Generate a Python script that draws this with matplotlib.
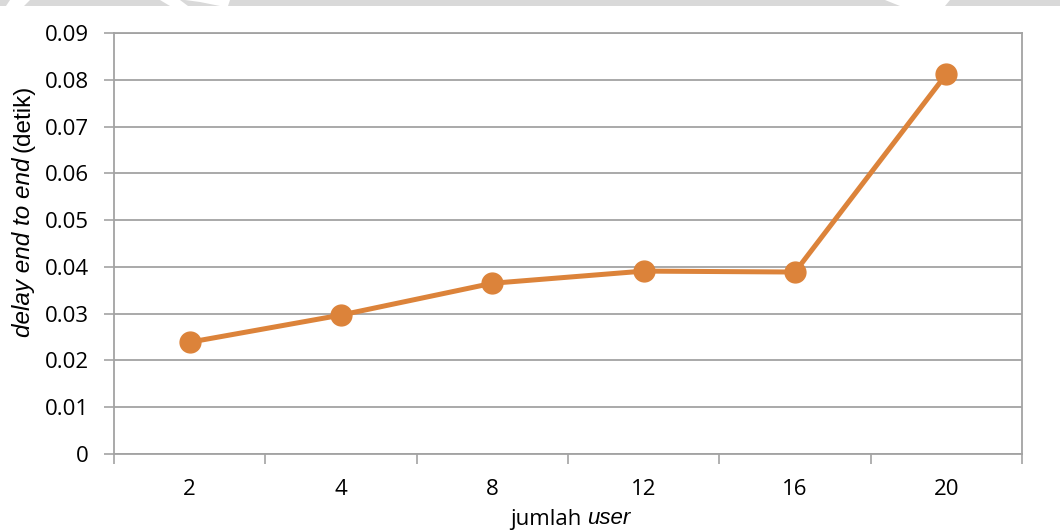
import matplotlib
matplotlib.use("Agg")
import matplotlib.pyplot as plt
from matplotlib.patches import Rectangle, Polygon

# Data
users = ["2", "4", "8", "12", "16", "20"]
delay = [0.0239, 0.0297, 0.0365, 0.0391, 0.0389, 0.0812]

y_ticks = [0, 0.01, 0.02, 0.03, 0.04, 0.05, 0.06, 0.07, 0.08, 0.09]
y_tick_labels = ["0", "0.01", "0.02", "0.03", "0.04", "0.05", "0.06", "0.07", "0.08", "0.09"]

W, H = 1060, 531
DPI = 100
LINE_COLOR = "#DC833A"
AXIS_COLOR = "#A3A3A3"
FS = 16

fig = plt.figure(figsize=(W / DPI, H / DPI), dpi=DPI)
fig.patch.set_facecolor("white")

# Plot area in pixel coordinates
left, right, top, bottom = 114, 1022, 33, 454
ax = fig.add_axes([left / W, 1 - bottom / H, (right - left) / W, (bottom - top) / H])

x = list(range(len(users)))
ax.plot(x, delay, color=LINE_COLOR, lw=3.6, marker="o", ms=15,
        markerfacecolor=LINE_COLOR, markeredgecolor=LINE_COLOR, zorder=3,
        solid_capstyle="round")

ax.set_xlim(-0.5, len(users) - 0.5)
ax.set_ylim(0, 0.09)
ax.set_yticks(y_ticks)
ax.set_yticklabels(y_tick_labels)
ax.set_xticks(x)
ax.set_xticklabels(users)

# Category boundary ticks on the x axis
ax.set_xticks([i - 0.5 for i in range(len(users) + 1)], minor=True)
ax.tick_params(axis="x", which="major", length=0, pad=18)
ax.tick_params(axis="x", which="minor", length=7, width=1.2, color=AXIS_COLOR)
ax.tick_params(axis="y", which="major", length=7, width=1.2, color=AXIS_COLOR, pad=11)

for lab in ax.get_xticklabels() + ax.get_yticklabels():
    lab.set_fontfamily("Open Sans")
    lab.set_fontsize(FS)
    lab.set_color("black")

ax.yaxis.grid(True, color=AXIS_COLOR, lw=1.3)
ax.set_axisbelow(True)
for side in ["left", "right", "bottom", "top"]:
    ax.spines[side].set_color(AXIS_COLOR)
    ax.spines[side].set_linewidth(1.3)

# Axis titles with italic English terms
fig.canvas.draw()
renderer = fig.canvas.get_renderer()

# y-axis title, reading bottom to top
yl_x = 24 / W
yl_size = 17.5
t1 = fig.text(yl_x, 0, "delay end to end", rotation=90,
              fontfamily="Liberation Sans", fontstyle="italic", fontsize=yl_size,
              ha="center", va="bottom")
t1b = fig.text(yl_x, 0, "(detik)", rotation=90,
               fontfamily="Liberation Sans", fontsize=yl_size, ha="center", va="bottom")
h1 = t1.get_window_extent(renderer).height
h1b = t1b.get_window_extent(renderer).height
gap = 6
total = h1 + gap + h1b
y_start = (H - 211) - total / 2
t1.set_y(y_start / H)
t1b.set_y((y_start + h1 + gap) / H)

# x-axis title
xl_y = 1 - 519 / H
t2 = fig.text(0, xl_y, "jumlah ", fontfamily="Open Sans", fontsize=FS,
              ha="left", va="center")
t3 = fig.text(0, xl_y, "user", fontfamily="Liberation Sans", fontstyle="italic",
              fontsize=FS, ha="left", va="center")
w2 = t2.get_window_extent(renderer).width
w3 = t3.get_window_extent(renderer).width
start = 570 - (w2 + w3) / 2
t2.set_x(start / W)
t3.set_x((start + w2) / W)

# Light grey band along the top edge
band_h = 6
fig.patches.append(Rectangle((0, 1 - band_h / H), 1, band_h / H,
                             transform=fig.transFigure, facecolor="#D9D9D9",
                             edgecolor="none", zorder=0))
for pts in [
    [(10, 0), (30, 0), (24, band_h), (6, band_h)],
    [(160, 0), (180, 0), (188, band_h), (170, band_h)],
    [(185, 0), (230, 0), (228, band_h), (220, band_h), (200, 2)],
    [(885, 0), (950, 0), (945, band_h), (900, band_h)],
]:
    fig.patches.append(Polygon([(px / W, 1 - py / H) for px, py in pts], closed=True,
                               transform=fig.transFigure, facecolor="white",
                               edgecolor="none", zorder=1))

fig.savefig("out.png", dpi=DPI, facecolor="white")
